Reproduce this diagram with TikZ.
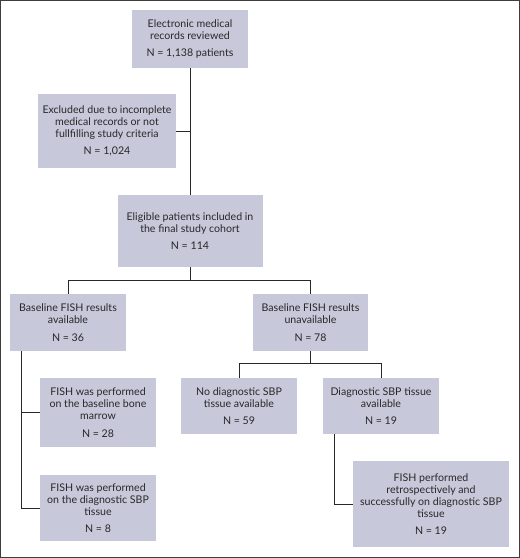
\documentclass[tikz,border=0pt]{standalone}
\usepackage{fontspec}
\setmainfont{Lato}
\usetikzlibrary{calc}
\definecolor{boxfill}{RGB}{200,200,219}
\definecolor{ink}{RGB}{40,40,40}
\tikzset{
  box/.style={fill=boxfill, draw=none, align=center, inner sep=0pt, text=ink,
    font=\fontsize{10.6}{12}\selectfont},
  conn/.style={draw=ink, line width=1pt},
}
\newcommand{\Ngap}{\\[5.5pt]}
\begin{document}
\begin{tikzpicture}[x=1pt,y=-1pt]
\useasboundingbox (0,0) rectangle (520,558);
\draw[draw=ink!90, line width=1pt] (0.5,0.5) rectangle (519.5,557.5);

\node[box, minimum width=116pt, minimum height=58pt] (b1) at (190,39)
  {Electronic medical\\records reviewed\Ngap N = 1,138 patients};
\node[box, minimum width=138pt, minimum height=74pt] (b2) at (107,131)
  {Excluded due to incomplete\\medical records or not\\fullfilling study criteria\Ngap N = 1,024};
\node[box, minimum width=145pt, minimum height=72pt] (b3) at (190,231)
  {Eligible patients included in\\the final study cohort\Ngap N = 114};
\node[box, minimum width=116pt, minimum height=57pt] (b4) at (68,322.5)
  {Baseline FISH results\\available\Ngap N = 36};
\node[box, minimum width=115pt, minimum height=57pt] (b5) at (310.5,322.5)
  {Baseline FISH results\\unavailable\Ngap N = 78};
\node[box, minimum width=116pt, minimum height=56pt] (b6) at (239,406)
  {No diagnostic SBP\\tissue available\Ngap N = 59};
\node[box, minimum width=116pt, minimum height=56pt] (b7) at (381,406)
  {Diagnostic SBP tissue\\available\Ngap N = 19};
\node[box, minimum width=116pt, minimum height=69pt] (b8) at (98,412.5)
  {FISH was performed\\on the baseline bone\\marrow\Ngap N = 28};
\node[box, minimum width=116pt, minimum height=66pt] (b9) at (98,508)
  {FISH was performed\\on the diagnostic SBP\\tissue\Ngap N = 8};
\node[box, minimum width=156pt, minimum height=86pt] (b10) at (431,504)
  {FISH performed\\retrospectively and\\successfully on diagnostic SBP\\tissue\Ngap N = 19};

% connectors
\draw[conn] (b1.south) -- (b1.south |- b3.north);
\draw[conn] (b2.east) -- (b2.east -| b1.south);
\draw[conn] (b3.south) -- ++(0,13) coordinate (split);
\draw[conn] (b4.north) |- (split) -| (b5.north);
\draw[conn] (b5.south) -- ++(0,12) coordinate (split2);
\draw[conn] (b6.north) |- (split2) -| (b7.north);
\draw[conn] ($(b4.south west)+(11.7,0)$) coordinate (lv) |- (b9.west);
\draw[conn] (lv |- b8.west) -- (b8.west);
\draw[conn] ($(b7.south west)+(11.3,0)$) |- (b10.west);
\end{tikzpicture}
\end{document}
